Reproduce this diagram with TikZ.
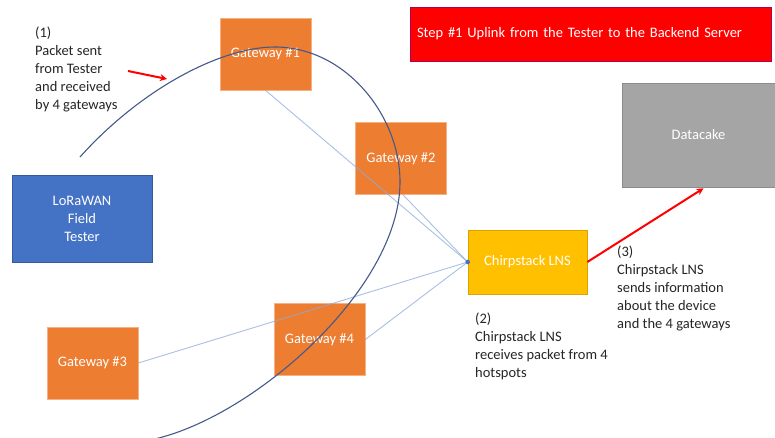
\documentclass[tikz,border=0pt]{standalone}
\usepackage{fontspec}
\setmainfont{Carlito}
\usetikzlibrary{arrows.meta,calc}
\definecolor{gworange}{HTML}{ED7D31}
\definecolor{gwedge}{HTML}{F4B183}
\definecolor{testerblue}{HTML}{4472C4}
\definecolor{lnsyellow}{HTML}{FFC000}
\definecolor{dcgray}{HTML}{A5A5A5}
\definecolor{linkblue}{HTML}{8FAADC}
\definecolor{curveblue}{HTML}{45598A}
\definecolor{anntext}{HTML}{262626}
\begin{document}
\begin{tikzpicture}[x=1pt,y=-1pt,
  every node/.style={font=\fontsize{14.5}{18}\selectfont},
  box/.style={rectangle,inner sep=0pt,text=white,align=center,line width=0.6pt},
  gwbox/.style={box,fill=gworange,draw=gwedge,minimum width=91pt,minimum height=72pt},
  ann/.style={anchor=north west,inner sep=0pt,align=left,text=anntext},
  link/.style={draw=linkblue,line width=0.9pt,draw opacity=0.75},
  redarrow/.style={draw=red,line width=2pt,-{Stealth[length=7pt,width=7pt]}},
  wave/.style={draw=curveblue,line width=1.1pt}]
\useasboundingbox (0,0) rectangle (775,437);
\fill[white] (0,0) rectangle (775,437);

\node[gwbox] (gw1) at (265.5,54) {Gateway \#1};
\node[gwbox] (gw2) at (401,158.5) {Gateway \#2};
\node[gwbox] (gw3) at (92.5,363) {Gateway \#3};
\node[gwbox] (gw4) at (319.5,339.5) {Gateway \#4};
\node[box,fill=testerblue,draw=testerblue!80!black,minimum width=140pt,minimum height=87pt] (tester) at (82,218.5) {LoRaWAN\\Field\\Tester};
\node[box,fill=lnsyellow,draw=lnsyellow!85!black,minimum width=119pt,minimum height=64pt] (lns) at (527.5,262) {Chirpstack LNS};
\node[box,fill=dcgray,draw=dcgray!85!black,minimum width=153pt,minimum height=104pt] (dc) at (698.5,135) {Datacake};
\node[box,fill=red,draw=red!70!blue,minimum width=361pt,minimum height=54pt,align=left,text width=347pt,inner xsep=7pt] (banner) at (590.5,34) {Step \#1 Uplink from the Tester to the Backend Server};

\node[ann] (ann1) at (35,27) {(1)\\Packet sent\\from Tester\\and received\\by 4 gateways};
\node[ann] (ann2) at (475,313) {(2)\\Chirpstack LNS\\receives packet from 4\\hotspots};
\node[ann] (ann3) at (617,246) {(3)\\Chirpstack LNS\\sends information\\about the device\\and the 4 gateways};

\draw[link] (gw1.south) -- (lns.west);
\draw[link] ($(gw2.south)+(2,0)$) -- (lns.west);
\draw[link] (gw3.east) -- (lns.west);
\draw[link] (gw4.east) -- (lns.west);
\fill[testerblue] (lns.west) circle (2.3pt);

\draw[redarrow] (lns.east) -- ($(dc.south)+(5,1)$);

\coordinate (ws) at (80,157);
\coordinate (wp) at (275,47);
\coordinate (wr) at (400,182);
\coordinate (we) at (150,440);
\draw[wave] (ws) .. controls (140,90) and (220,47) .. (wp)
  .. controls (345,47) and (400,115) .. (wr)
  .. controls (400,290) and (250,420) .. (we);

\coordinate (rs) at (128,71);
\coordinate (re) at (167,79);
\draw[redarrow] (rs) -- (re);
\end{tikzpicture}
\end{document}
